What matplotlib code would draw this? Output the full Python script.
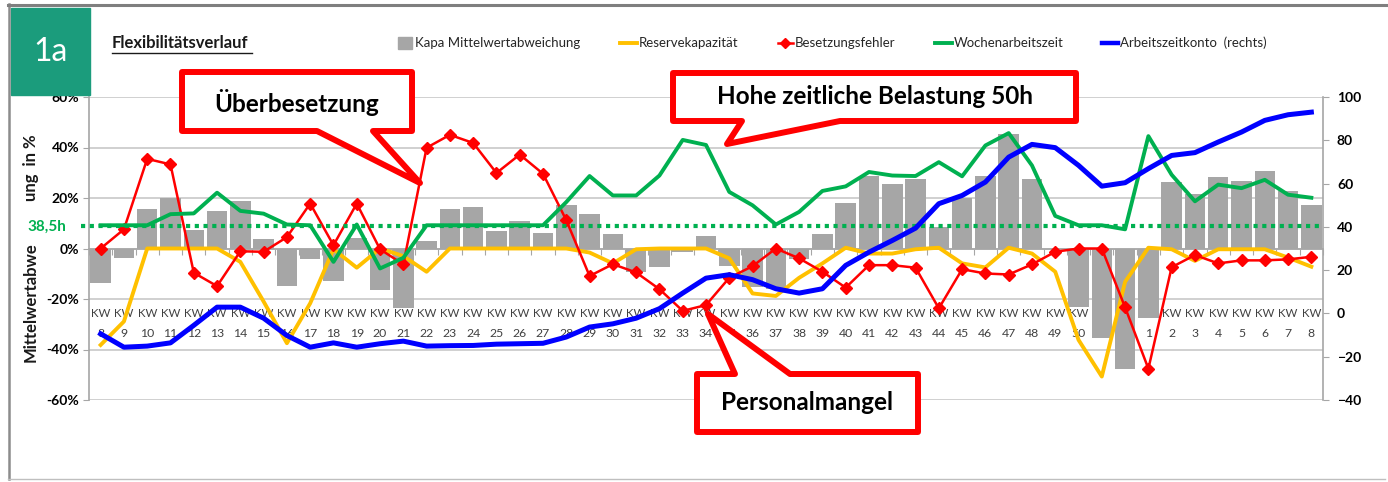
import matplotlib
matplotlib.use("Agg")
import matplotlib.pyplot as plt
import numpy as np
from matplotlib.patches import Polygon, Rectangle
from matplotlib.transforms import blended_transform_factory

plt.rcParams['font.family'] = ['Lato', 'DejaVu Sans']

# Kalenderwochen (KW 8 .. KW 52, KW 1 .. KW 8)
weeks = [8, 9, 10, 11, 12, 13, 14, 15, 16, 17, 18, 19, 20, 21, 22, 23, 24, 25,
         26, 27, 28, 29, 30, 31, 32, 33, 34, 35, 36, 37, 38, 39, 40, 41, 42, 43,
         44, 45, 46, 47, 48, 49, 50, 51, 52, 1, 2, 3, 4, 5, 6, 7, 8]

# Kapa Mittelwertabweichung (%)
kapa = [-13.8, -3.9, 15.5, 20.0, 7.2, 14.7, 18.7, 3.9, -14.9, -4.3, -12.9, 4.3, -16.4, -23.7,
        3.0, 15.8, 16.4, 7.0, 10.9, 6.3, 17.1, 13.6, 5.9, -9.5, -7.2, -1.3, 5.1,
        -7.0, -15.1, -16.2, -4.3, 5.7, 18.0, 28.9, 25.4, 27.4, 8.6, 20.0, 28.9, 45.4, 27.6,
        0.0, -23.0, -35.3, -47.6,
        -27.4, 26.3, 21.6, 28.2, 26.7, 30.8, 22.8, 17.4]

# Reservekapazität (%)
reserve = [-38.2, -28.9, 0, 0, 0, 0, -5.3, -21.0, -37.5, -21.7, -0.3, -7.6, 0, -3.0,
           -9.2, 0, 0, 0, 0, 0, 0, -1.6, -5.9, -0.3, 0, 0, 0,
           -3.9, -17.8, -18.8, -11.6, -5.9, 0.3, -2.0, -2.0, -0.3, 0.3, -5.9, -7.5, 0.3, -2.0,
           -9.2, -36.2, -50.7, -13.2,
           0.3, -0.3, -4.9, -0.3, -0.3, -0.3, -3.6, -7.2]

# Besetzungsfehler (%)
besetzung = [0, 7.6, 35.5, 33.3, -9.6, -14.9, -1.1, -1.3, 4.5, 17.8, 1.3, 17.8, -0.3, -6.3,
             39.9, 45.0, 41.8, 29.9, 37.2, 29.6, 11.2, -10.9, -6.2, -9.5, -16.1, -24.7, -22.4,
             -11.6, -7.0, 0, -3.9, -9.2, -15.5, -6.6, -6.6, -7.6, -23.7, -8.2, -9.9, -10.3, -6.3,
             -1.3, 0, 0, -23.3,
             -47.6, -7.4, -2.6, -5.9, -4.7, -4.7, -4.3, -3.3]

# Wochenarbeitszeit (auf linker Skala)
wochenzeit = [9.2, 9.2, 9.2, 13.6, 13.9, 22.1, 14.9, 13.8, 9.5, 9.2, -5.3, 9.5, -7.9, -3.7,
              9.2, 9.2, 9.2, 9.2, 9.2, 9.2, 18.4, 28.7, 21.0, 21.0, 28.9, 43.0, 41.0,
              22.4, 17.1, 9.5, 14.5, 22.8, 24.6, 30.3, 28.9, 28.7, 34.2, 28.6, 40.8, 45.7, 32.9,
              12.9, 9.2, 9.2, 7.6,
              44.5, 29.2, 18.7, 25.3, 23.9, 27.2, 21.3, 20.1]

# Arbeitszeitkonto (rechte Skala)
konto = [-9.4, -15.6, -15.1, -13.6, -5.5, 2.9, 2.9, -2.2, -10.2, -15.6, -13.6, -15.6, -14.0, -12.8,
         -15.1, -14.9, -14.8, -14.2, -14.0, -13.8, -10.9, -6.3, -4.8, -2.2, 2.2, 9.4, 16.3,
         17.9, 15.6, 11.4, 9.4, 11.4, 22.2, 28.3, 33.7, 39.4, 50.7, 54.5, 60.7, 72.2, 78.1,
         76.6, 68.4, 58.8, 60.4,
         66.9, 73.0, 74.3, 79.2, 83.8, 89.2, 91.8, 93.0]

soll_level = 8.9  # 38,5h Linie

W, H = 1388, 482
fig = plt.figure(figsize=(W / 100, H / 100), dpi=100)
fig.patch.set_facecolor('white')

ax = fig.add_axes([89 / W, 1 - 400 / H, (1323 - 89) / W, 303 / H])
x = np.arange(len(weeks))
n = len(weeks)

ax.set_xlim(-0.5, n - 0.5)
ax.set_ylim(-60, 60)
ax.set_yticks(range(-60, 61, 20))
ax.set_yticklabels([f"{v}%" for v in range(-60, 61, 20)])
ax.grid(axis='y', color='#C8C8C8', lw=1.2)
ax.set_axisbelow(True)

ax.bar(x, kapa, width=0.88, color='#A6A6A6', zorder=2)
ax.plot(x, reserve, color='#FFC000', lw=2.8, zorder=3)
ax.plot(x, besetzung, color='#FF0000', lw=1.8, marker='D', ms=6, zorder=4)
ax.plot(x, wochenzeit, color='#00B050', lw=2.8, zorder=5)
ax.plot([-0.85, n - 0.5], [soll_level, soll_level], color='#00B050', lw=3,
        ls=(0, (1, 1.1)), clip_on=False, zorder=5)

ax.spines['bottom'].set_position(('data', 0))
ax.spines['top'].set_visible(False)
ax.spines['right'].set_visible(False)
for s in ('bottom', 'left'):
    ax.spines[s].set_color('#A6A6A6')
    ax.spines[s].set_linewidth(1.2)
ax.set_xticks(np.arange(-0.5, n, 1))
ax.tick_params(axis='x', length=4, color='#A6A6A6', labelbottom=False)
ax.tick_params(axis='y', length=4, color='#A6A6A6', labelsize=10, pad=3)
for lab in ax.get_yticklabels():
    lab.set_fontweight('bold')

trans = blended_transform_factory(ax.transData, ax.transAxes)
for i, w in enumerate(weeks):
    ax.text(i, 0.287, 'KW', transform=trans, ha='center', va='center',
            fontsize=8.3, color='#404040', zorder=1)
    ax.text(i, 0.221, str(w), transform=trans, ha='center', va='center',
            fontsize=8.8, color='#404040', zorder=1)

ax2 = ax.twinx()
ax2.set_ylim(-40, 100)
ax2.set_yticks(range(-40, 101, 20))
ax2.plot(x, konto, color='#0000FF', lw=3.6, zorder=6)
for s in ('top', 'bottom', 'left'):
    ax2.spines[s].set_visible(False)
ax2.spines['right'].set_color('#A6A6A6')
ax2.spines['right'].set_linewidth(1.2)
ax2.tick_params(axis='y', length=4, color='#A6A6A6', labelsize=10, pad=6)
for lab in ax2.get_yticklabels():
    lab.set_fontweight('bold')

# overlay in pixel coordinates for frame, title, legend and callouts
ov = fig.add_axes([0, 0, 1, 1])
ov.set_xlim(0, W)
ov.set_ylim(H, 0)
ov.axis('off')
ov.patch.set_alpha(0)
ov.set_zorder(10)

ov.plot([9, 9], [4, 479], color='#8C8C8C', lw=1.8)
ov.plot([8, W], [5, 5], color='#7F7F7F', lw=2.2)
ov.plot([8, W - 3], [479, 479], color='#BFBFBF', lw=1)

ov.add_patch(Rectangle((11, 8), 79, 87, color='#1B9C7C'))
ov.text(51, 52, '1a', color='white', fontsize=23, fontweight='normal',
        ha='center', va='center')

ov.text(112, 43, 'Flexibilitätsverlauf', fontsize=12, fontweight='bold',
        ha='left', va='center', color='#1A1A1A')
ov.plot([112, 252], [53, 53], color='#1A1A1A', lw=1)

ov.text(31, 302, 'Mittelwertabwe', rotation=90, fontsize=12, fontweight='bold',
        ha='center', va='center', color='#1A1A1A')
ov.text(31, 168, 'ung  in %', rotation=90, fontsize=12, fontweight='bold',
        ha='center', va='center', color='#1A1A1A')
ov.text(47, 227, '38,5h', fontsize=11, fontweight='bold', color='#00B050',
        ha='center', va='center')

# legend
leg_y = 43
leg_fs = 9.5
ov.add_patch(Rectangle((398, leg_y - 6), 14, 12, color='#A6A6A6'))
ov.text(415, leg_y, 'Kapa Mittelwertabweichung', fontsize=leg_fs, va='center', color='#262626')
ov.plot([620, 637], [leg_y, leg_y], color='#FFC000', lw=2.8)
ov.text(639, leg_y, 'Reservekapazität', fontsize=leg_fs, va='center', color='#262626')
ov.plot([778, 793], [leg_y, leg_y], color='#FF0000', lw=1.8)
ov.plot([785.5], [leg_y], color='#FF0000', marker='D', ms=5)
ov.text(795, leg_y, 'Besetzungsfehler', fontsize=leg_fs, va='center', color='#262626')
ov.plot([935, 952], [leg_y, leg_y], color='#00B050', lw=2.8)
ov.text(954, leg_y, 'Wochenarbeitszeit', fontsize=leg_fs, va='center', color='#262626')
ov.plot([1102, 1118], [leg_y, leg_y], color='#0000FF', lw=3.2)
ov.text(1120, leg_y, 'Arbeitszeitkonto  (rechts)', fontsize=leg_fs, va='center', color='#262626')


def callout(verts, text, cx, cy):
    ov.add_patch(Polygon(verts, closed=True, facecolor='white', edgecolor='#FF0000',
                         lw=4.3, joinstyle='round'))
    ov.text(cx, cy, text, fontsize=17.5, fontweight='bold', ha='center', va='center',
            color='black')


callout([(182, 72), (412, 72), (412, 131), (373, 131), (420, 183), (317, 131), (182, 131)],
        'Überbesetzung', 297, 102)
callout([(673, 73), (1076, 73), (1076, 121), (840, 121), (727, 144), (742, 121), (673, 121)],
        'Hohe zeitliche Belastung 50h', 875, 97)
callout([(697, 374), (735, 374), (708, 314), (790, 374), (918, 374), (918, 432), (697, 432)],
        'Personalmangel', 807, 403)

fig.savefig('out.png', dpi=100, facecolor='white')
